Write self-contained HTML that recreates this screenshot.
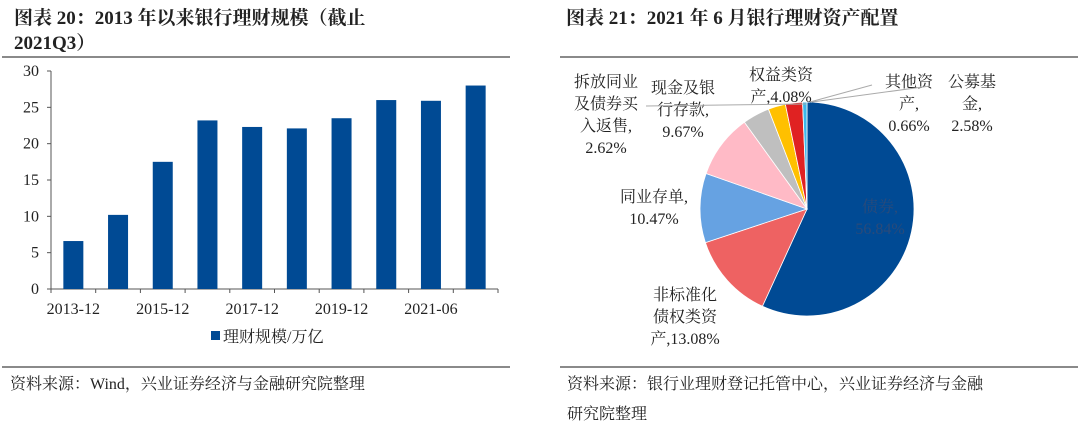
<!DOCTYPE html>
<html><head><meta charset="utf-8"><style>
body{margin:0;width:1080px;height:429px;background:#fff;overflow:hidden}
svg{display:block}
text{font-family:"Liberation Serif","Noto Serif CJK SC",serif;fill:#222}
</style></head><body>
<svg id="s" width="1080" height="429">
<text x="14" y="24" font-size="19" font-weight="bold">图表 20：2013 年以来银行理财规模（截止</text>
<text x="14" y="49" font-size="19" font-weight="bold">2021Q3）</text>
<text x="566" y="24" font-size="19" font-weight="bold">图表 21：2021 年 6 月银行理财资产配置</text>
<line x1="2" y1="57" x2="510" y2="57" stroke="#444" stroke-width="1.2"/>
<line x1="560" y1="57" x2="1078" y2="57" stroke="#444" stroke-width="1.2"/>
<line x1="2" y1="367" x2="510" y2="367" stroke="#444" stroke-width="1.2"/>
<line x1="560" y1="367" x2="1078" y2="367" stroke="#444" stroke-width="1.2"/>
<text x="10" y="389" font-size="16">资料来源：Wind，兴业证券经济与金融研究院整理</text>
<text x="567" y="389" font-size="16">资料来源：银行业理财登记托管中心，兴业证券经济与金融</text>
<text x="567" y="419" font-size="16">研究院整理</text>
<g id="bars"></g>
<g id="pie"></g>
</svg>
<script>
const categories=["2013-12","2014-12","2015-12","2016-12","2017-12","2018-12","2019-12","2020-12","2021-06","2021-09"];
const values=[6.6,10.2,17.5,23.2,22.3,22.1,23.5,26.0,25.9,28.0];
const yTicks=[0,5,10,15,20,25,30];
const xLabelIdx=[0,2,4,6,8];
const pieLabels=["债券","非标准化债权类资产","同业存单","现金及银行存款","权益类资产","拆放同业及债券买入返售","公募基金","其他资产"];
const pieValues=[56.84,13.08,10.47,9.67,4.08,2.62,2.58,0.66];
const pieColors=["#004A94","#EE6262","#66A2E2","#FFBAC6","#BFBFBF","#FFC000","#E02222","#3DB8EA"];
const NS="http://www.w3.org/2000/svg";
function mk(p,t,a){const e=document.createElementNS(NS,t);for(const k in a)e.setAttribute(k,a[k]);p.appendChild(e);return e;}
const bars=document.getElementById('bars');
const x0=51,x1=498,y0=289,y1=71,ymax=30;
const ys=v=>y0-(v/ymax)*(y0-y1);
const cw=(x1-x0)/categories.length;
const xc=i=>x0+cw*(i+0.5);
let ax=mk(bars,'line',{x1:x0,y1:y1,x2:x0,y2:y0,stroke:'#555'});

ax=mk(bars,'line',{x1:x0,y1:y0,x2:x1,y2:y0,stroke:'#555'});

yTicks.forEach(v=>{
 const t=mk(bars,'line',{x1:x0-4,x2:x0,y1:ys(v),y2:ys(v),stroke:'#555'});
 
 const l=mk(bars,'text',{x:x0-12,y:ys(v)+5,'font-size':16,'text-anchor':'end'});l.textContent=v;
 
});
for(let i=0;i<=categories.length;i++){
 const t=mk(bars,'line',{x1:x0+cw*i,x2:x0+cw*i,y1:y0,y2:y0+4,stroke:'#555'});
 
}
values.forEach((v,i)=>{
 const r=mk(bars,'rect',{x:xc(i)-10,y:ys(v),width:20,height:y0-ys(v),fill:'#004A94'});
 
});
xLabelIdx.forEach(i=>{
 const l=mk(bars,'text',{x:xc(i),y:314,'font-size':16,'text-anchor':'middle'});l.textContent=categories[i];
 
});
let lg=mk(bars,'rect',{x:211,y:331,width:9,height:9,fill:'#004A94'});

lg=mk(bars,'text',{x:223,y:342,'font-size':16});lg.textContent='理财规模/万亿';


const pie=document.getElementById('pie');
const cx=807,cy=209,R=107;
const tot=pieValues.reduce((a,b)=>a+b,0);
let a=0;
const pt=(ang,r)=>[cx+r*Math.sin(ang),cy-r*Math.cos(ang)];
pieValues.forEach((v,i)=>{
 const a2=a+v/tot*2*Math.PI;
 const [sx,sy]=pt(a,R),[ex,ey]=pt(a2,R);
 const s=mk(pie,'path',{d:`M${cx},${cy}L${sx},${sy}A${R},${R} 0 ${a2-a>Math.PI?1:0} 1 ${ex},${ey}Z`,fill:pieColors[i],stroke:'#fff','stroke-width':0.8});
 
 a=a2;
});
const L=[
 {x:880,y:[212,234],t:["债券,",pieValues[0].toFixed(2)+"%"],c:'#2a4a7a'},
 {x:685,y:[300,322,344],t:["非标准化","债权类资","产,"+pieValues[1].toFixed(2)+"%"]},
 {x:654,y:[202,224],t:["同业存单,",pieValues[2].toFixed(2)+"%"]},
 {x:683,y:[93,115,137],t:["现金及银","行存款,",pieValues[3].toFixed(2)+"%"]},
 {x:781,y:[80,102],t:["权益类资","产,"+pieValues[4].toFixed(2)+"%"]},
 {x:606,y:[87,109,131,153],t:["拆放同业","及债券买","入返售,",pieValues[5].toFixed(2)+"%"]},
 {x:972,y:[87,109,131],t:["公募基","金,",pieValues[6].toFixed(2)+"%"]},
 {x:909,y:[87,109,131],t:["其他资","产,",pieValues[7].toFixed(2)+"%"]}
];
L.forEach((o,i)=>{
 const g=mk(pie,'text',{'font-size':16,'text-anchor':'middle'});
 
 o.t.forEach((s,j)=>{const ts=mk(g,'tspan',{x:o.x,y:o.y[j]});if(o.c)ts.setAttribute('fill',o.c);ts.textContent=s;});
});
[[646,106,806,104],[872,85,810,102],[930,86,812,102]].forEach(p=>{
 const l=mk(pie,'polyline',{points:`${p[0]},${p[1]} ${p[2]},${p[3]}`,fill:'none',stroke:'#aaa'});
 
});
</script>
</body></html>
